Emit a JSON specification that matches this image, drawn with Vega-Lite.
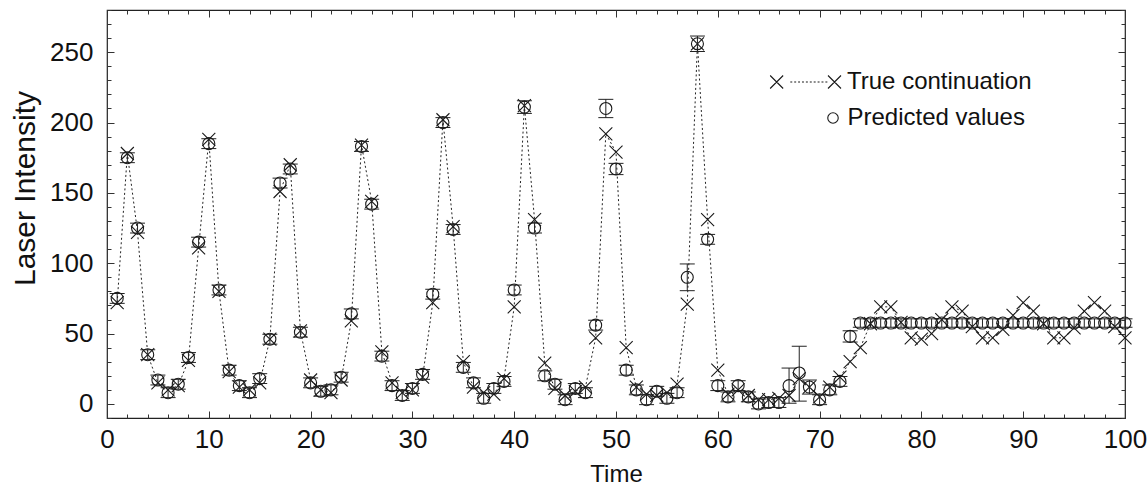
{
  "$schema": "https://vega.github.io/schema/vega-lite/v6.json",
  "width": 1018,
  "height": 408,
  "autosize": {"type": "none"},
  "padding": {"left": 107, "top": 10, "right": 22, "bottom": 73},
  "background": "white",
  "config": {
    "view": {"stroke": "#222", "strokeWidth": 1.2},
    "font": "Liberation Sans",
    "axis": {"grid": false, "domain": false, "labelFont": "Liberation Sans", "titleFont": "Liberation Sans", "labelColor": "#111", "titleColor": "#111", "tickColor": "#333", "tickWidth": 1, "labelFontSize": 26, "titleFontSize": 24, "titleFontWeight": "normal", "labelFlush": false, "labelOverlap": false}
  },
  "data": {"values": [
    {"t":1,"truth":72,"pred":75,"lo":71.5,"hi":78.5},
    {"t":2,"truth":178,"pred":175,"lo":171.5,"hi":178.5},
    {"t":3,"truth":122,"pred":125,"lo":121.5,"hi":128.5},
    {"t":4,"truth":35,"pred":35,"lo":31.5,"hi":38.5},
    {"t":5,"truth":15,"pred":17,"lo":13.5,"hi":20.5},
    {"t":6,"truth":10,"pred":8,"lo":4.5,"hi":11.5},
    {"t":7,"truth":13,"pred":14,"lo":10.5,"hi":17.5},
    {"t":8,"truth":31,"pred":33,"lo":29.5,"hi":36.5},
    {"t":9,"truth":111,"pred":115,"lo":111.5,"hi":118.5},
    {"t":10,"truth":188,"pred":185,"lo":181.5,"hi":188.5},
    {"t":11,"truth":80,"pred":81,"lo":77.5,"hi":84.5},
    {"t":12,"truth":23,"pred":24,"lo":20.5,"hi":27.5},
    {"t":13,"truth":12,"pred":13,"lo":9.5,"hi":16.5},
    {"t":14,"truth":10,"pred":8,"lo":4.5,"hi":11.5},
    {"t":15,"truth":15,"pred":18,"lo":14.5,"hi":21.5},
    {"t":16,"truth":46,"pred":46,"lo":42.5,"hi":49.5},
    {"t":17,"truth":151,"pred":157,"lo":153.5,"hi":160.5},
    {"t":18,"truth":170,"pred":167,"lo":163.5,"hi":170.5},
    {"t":19,"truth":52,"pred":51,"lo":47.5,"hi":54.5},
    {"t":20,"truth":17,"pred":15,"lo":11.5,"hi":18.5},
    {"t":21,"truth":10,"pred":9,"lo":5.5,"hi":12.5},
    {"t":22,"truth":8,"pred":10,"lo":6.5,"hi":13.5},
    {"t":23,"truth":17,"pred":19,"lo":15.5,"hi":22.5},
    {"t":24,"truth":59,"pred":64,"lo":60.5,"hi":67.5},
    {"t":25,"truth":184,"pred":183,"lo":179.5,"hi":186.5},
    {"t":26,"truth":144,"pred":142,"lo":138.5,"hi":145.5},
    {"t":27,"truth":37,"pred":34,"lo":30.5,"hi":37.5},
    {"t":28,"truth":15,"pred":13,"lo":9.5,"hi":16.5},
    {"t":29,"truth":8,"pred":6,"lo":2.5,"hi":9.5},
    {"t":30,"truth":10,"pred":11,"lo":7.5,"hi":14.5},
    {"t":31,"truth":19,"pred":21,"lo":17.5,"hi":24.5},
    {"t":32,"truth":72,"pred":78,"lo":74.5,"hi":81.5},
    {"t":33,"truth":202,"pred":200,"lo":196.5,"hi":203.5},
    {"t":34,"truth":126,"pred":124,"lo":120.5,"hi":127.5},
    {"t":35,"truth":30,"pred":26,"lo":22.5,"hi":29.5},
    {"t":36,"truth":12,"pred":15,"lo":11.5,"hi":18.5},
    {"t":37,"truth":8,"pred":4,"lo":0.5,"hi":7.5},
    {"t":38,"truth":7,"pred":11,"lo":7.5,"hi":14.5},
    {"t":39,"truth":18,"pred":16,"lo":12.5,"hi":19.5},
    {"t":40,"truth":69,"pred":81,"lo":77.5,"hi":84.5},
    {"t":41,"truth":212,"pred":211,"lo":206.5,"hi":215.5},
    {"t":42,"truth":131,"pred":125,"lo":121.5,"hi":128.5},
    {"t":43,"truth":29,"pred":20,"lo":16.5,"hi":23.5},
    {"t":44,"truth":11,"pred":14,"lo":10.5,"hi":17.5},
    {"t":45,"truth":6,"pred":3,"lo":-0.5,"hi":6.5},
    {"t":46,"truth":9,"pred":11,"lo":7.5,"hi":14.5},
    {"t":47,"truth":12,"pred":8,"lo":4.5,"hi":11.5},
    {"t":48,"truth":47,"pred":56,"lo":52.5,"hi":59.5},
    {"t":49,"truth":192,"pred":210,"lo":203.5,"hi":216.5},
    {"t":50,"truth":179,"pred":167,"lo":163,"hi":171},
    {"t":51,"truth":40,"pred":24,"lo":20.5,"hi":27.5},
    {"t":52,"truth":12,"pred":10,"lo":6.5,"hi":13.5},
    {"t":53,"truth":7,"pred":3,"lo":-0.5,"hi":6.5},
    {"t":54,"truth":6,"pred":9,"lo":5.5,"hi":12.5},
    {"t":55,"truth":8,"pred":4,"lo":0.5,"hi":7.5},
    {"t":56,"truth":14,"pred":8,"lo":4.5,"hi":11.5},
    {"t":57,"truth":71,"pred":90,"lo":80.5,"hi":99.5},
    {"t":58,"truth":256,"pred":256,"lo":250.5,"hi":261.5},
    {"t":59,"truth":131,"pred":117,"lo":113.5,"hi":120.5},
    {"t":60,"truth":24,"pred":13,"lo":9.5,"hi":16.5},
    {"t":61,"truth":7,"pred":5,"lo":1.5,"hi":8.5},
    {"t":62,"truth":10,"pred":13,"lo":9.5,"hi":16.5},
    {"t":63,"truth":6,"pred":5,"lo":1.5,"hi":8.5},
    {"t":64,"truth":3,"pred":0,"lo":-3.5,"hi":3.5},
    {"t":65,"truth":3,"pred":1,"lo":-2.5,"hi":4.5},
    {"t":66,"truth":4,"pred":1,"lo":-2.5,"hi":4.5},
    {"t":67,"truth":6,"pred":13,"lo":0.5,"hi":25.5},
    {"t":68,"truth":18,"pred":22,"lo":2,"hi":41},
    {"t":69,"truth":12,"pred":12,"lo":7,"hi":17},
    {"t":70,"truth":5,"pred":3,"lo":-0.5,"hi":6.5},
    {"t":71,"truth":12,"pred":10,"lo":6.5,"hi":13.5},
    {"t":72,"truth":19,"pred":16,"lo":12.5,"hi":19.5},
    {"t":73,"truth":30,"pred":48,"lo":44,"hi":52},
    {"t":74,"truth":40,"pred":57.5,"lo":54.5,"hi":60.5},
    {"t":75,"truth":57,"pred":57.5,"lo":54.5,"hi":60.5},
    {"t":76,"truth":69,"pred":57.5,"lo":54.5,"hi":60.5},
    {"t":77,"truth":69,"pred":57.5,"lo":54.5,"hi":60.5},
    {"t":78,"truth":58,"pred":57.5,"lo":54.5,"hi":60.5},
    {"t":79,"truth":47,"pred":57.5,"lo":54.5,"hi":60.5},
    {"t":80,"truth":46,"pred":57.5,"lo":54.5,"hi":60.5},
    {"t":81,"truth":50,"pred":57.5,"lo":54.5,"hi":60.5},
    {"t":82,"truth":60,"pred":57.5,"lo":54.5,"hi":60.5},
    {"t":83,"truth":69,"pred":57.5,"lo":54.5,"hi":60.5},
    {"t":84,"truth":66,"pred":57.5,"lo":54.5,"hi":60.5},
    {"t":85,"truth":55,"pred":57.5,"lo":54.5,"hi":60.5},
    {"t":86,"truth":47,"pred":57.5,"lo":54.5,"hi":60.5},
    {"t":87,"truth":47,"pred":57.5,"lo":54.5,"hi":60.5},
    {"t":88,"truth":53,"pred":57.5,"lo":54.5,"hi":60.5},
    {"t":89,"truth":63,"pred":57.5,"lo":54.5,"hi":60.5},
    {"t":90,"truth":72,"pred":57.5,"lo":54.5,"hi":60.5},
    {"t":91,"truth":66,"pred":57.5,"lo":54.5,"hi":60.5},
    {"t":92,"truth":57,"pred":57.5,"lo":54.5,"hi":60.5},
    {"t":93,"truth":47,"pred":57.5,"lo":54.5,"hi":60.5},
    {"t":94,"truth":47,"pred":57.5,"lo":54.5,"hi":60.5},
    {"t":95,"truth":54,"pred":57.5,"lo":54.5,"hi":60.5},
    {"t":96,"truth":66,"pred":57.5,"lo":54.5,"hi":60.5},
    {"t":97,"truth":72,"pred":57.5,"lo":54.5,"hi":60.5},
    {"t":98,"truth":66,"pred":57.5,"lo":54.5,"hi":60.5},
    {"t":99,"truth":55,"pred":57.5,"lo":54.5,"hi":60.5},
    {"t":100,"truth":47,"pred":57.5,"lo":54.5,"hi":60.5}
  ]},
  "layer": [
    {
      "mark": {"type": "line", "stroke": "#222", "strokeWidth": 1, "strokeDash": [2, 2.5]},
      "encoding": {
        "x": {"field": "t", "type": "quantitative", "scale": {"domain": [0, 100], "nice": false, "zero": false},
          "axis": {"orient": "bottom", "ticks": false, "values": [0,10,20,30,40,50,60,70,80,90,100], "labelPadding": 8, "title": "Time", "titlePadding": 10}},
        "y": {"field": "truth", "type": "quantitative", "scale": {"domain": [-10, 280], "nice": false, "zero": false},
          "axis": {"orient": "left", "ticks": false, "values": [0,50,100,150,200,250], "labelPadding": 14, "title": "Laser Intensity", "titleFontSize": 30, "titlePadding": 9, "titleY": 178}}
      }
    },
    {
      "mark": {"type": "point", "shape": "M-1,-1L1,1M-1,1L1,-1", "size": 169, "filled": false, "strokeWidth": 1.1, "opacity": 1},
      "encoding": {
        "x": {"field": "t", "type": "quantitative", "scale": {"domain": [0, 100], "nice": false, "zero": false},
          "axis": {"orient": "top", "offset": -408, "labels": false, "tickSize": 7, "values": [0,10,20,30,40,50,60,70,80,90,100], "title": null}},
        "y": {"field": "truth", "type": "quantitative", "scale": {"domain": [-10, 280], "nice": false, "zero": false},
          "axis": {"orient": "right", "offset": -1018, "labels": false, "tickSize": 7, "values": [0,50,100,150,200,250], "title": null}},
        "color": {"datum": "True continuation", "scale": {"range": ["#1a1a1a"]},
          "legend": {"orient": "none", "legendX": 715.5, "legendY": 60, "title": null, "padding": 0,
            "symbolType": "M-9.9,-1L-7.9,1M-9.9,1L-7.9,-1M-1,-1L1,1M-1,1L1,-1M-6.8,0L-6.5,0M-6.2,0L-5.9,0M-5.6,0L-5.3,0M-5,0L-4.7,0M-4.4,0L-4.1,0M-3.8,0L-3.5,0M-3.2,0L-2.9,0M-2.6,0L-2.3,0M-2,0L-1.7,0M-1.4,0L-1.1,0",
            "symbolSize": 169, "symbolStrokeWidth": 1.1, "symbolStrokeColor": "#1a1a1a", "symbolFillColor": "transparent",
            "labelFontSize": 24, "labelFont": "Liberation Sans", "labelColor": "#111", "labelOffset": 0.5, "labelLimit": 400}}
      }
    },
    {
      "mark": {"type": "rule", "stroke": "#222", "strokeWidth": 1},
      "encoding": {
        "x": {"field": "t", "type": "quantitative", "scale": {"domain": [0, 100], "nice": false, "zero": false},
          "axis": {"orient": "bottom", "offset": -408, "labels": false, "tickSize": 7, "values": [0,10,20,30,40,50,60,70,80,90,100], "title": null}},
        "y": {"field": "lo", "type": "quantitative", "scale": {"domain": [-10, 280], "nice": false, "zero": false},
          "axis": {"orient": "left", "offset": -1018, "labels": false, "tickSize": 7, "values": [0,50,100,150,200,250], "title": null}},
        "y2": {"field": "hi"}
      }
    },
    {
      "mark": {"type": "tick", "orient": "horizontal", "size": 15, "thickness": 1, "color": "#222", "opacity": 1},
      "encoding": {
        "x": {"field": "t", "type": "quantitative", "scale": {"domain": [0, 100], "nice": false, "zero": false},
          "axis": {"orient": "top", "offset": -408, "labels": false, "tickSize": 4, "values": [0,2,4,6,8,10,12,14,16,18,20,22,24,26,28,30,32,34,36,38,40,42,44,46,48,50,52,54,56,58,60,62,64,66,68,70,72,74,76,78,80,82,84,86,88,90,92,94,96,98,100], "title": null}},
        "y": {"field": "lo", "type": "quantitative", "scale": {"domain": [-10, 280], "nice": false, "zero": false},
          "axis": {"orient": "right", "offset": -1018, "labels": false, "tickSize": 4, "values": [-10,0,10,20,30,40,50,60,70,80,90,100,110,120,130,140,150,160,170,180,190,200,210,220,230,240,250,260,270,280], "title": null}}
      }
    },
    {
      "mark": {"type": "tick", "orient": "horizontal", "size": 15, "thickness": 1, "color": "#222", "opacity": 1},
      "encoding": {
        "x": {"field": "t", "type": "quantitative", "scale": {"domain": [0, 100], "nice": false, "zero": false},
          "axis": {"orient": "bottom", "offset": -408, "labels": false, "tickSize": 4, "values": [0,2,4,6,8,10,12,14,16,18,20,22,24,26,28,30,32,34,36,38,40,42,44,46,48,50,52,54,56,58,60,62,64,66,68,70,72,74,76,78,80,82,84,86,88,90,92,94,96,98,100], "title": null}},
        "y": {"field": "hi", "type": "quantitative", "scale": {"domain": [-10, 280], "nice": false, "zero": false},
          "axis": {"orient": "left", "offset": -1018, "labels": false, "tickSize": 4, "values": [-10,0,10,20,30,40,50,60,70,80,90,100,110,120,130,140,150,160,170,180,190,200,210,220,230,240,250,260,270,280], "title": null}}
      }
    },
    {
      "mark": {"type": "point", "size": 144, "filled": false, "strokeWidth": 1.1, "color": "#1a1a1a", "opacity": 1},
      "encoding": {
        "x": {"field": "t", "type": "quantitative", "scale": {"domain": [0, 100], "nice": false, "zero": false}, "axis": null},
        "y": {"field": "pred", "type": "quantitative", "scale": {"domain": [-10, 280], "nice": false, "zero": false}, "axis": null},
        "shape": {"datum": "Predicted values", "scale": {"range": ["circle"]},
          "legend": {"orient": "none", "legendX": 714, "legendY": 96, "title": null, "padding": 0,
            "symbolSize": 110, "symbolStrokeWidth": 1.1, "symbolStrokeColor": "#1a1a1a", "symbolFillColor": "transparent",
            "labelFontSize": 24, "labelFont": "Liberation Sans", "labelColor": "#111", "labelOffset": 2.5, "labelLimit": 400}}
      }
    }
  ],
  "resolve": {"axis": {"x": "independent", "y": "independent"}}
}
